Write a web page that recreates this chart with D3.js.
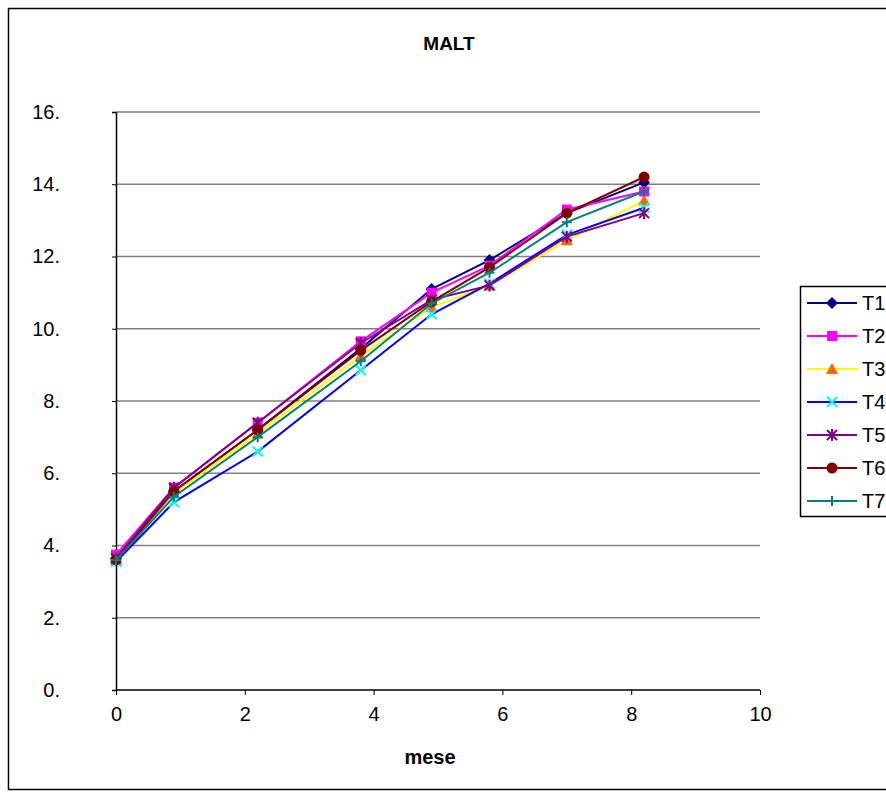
<!DOCTYPE html>
<html><head><meta charset="utf-8">
<script src="https://cdn.jsdelivr.net/npm/d3@7/dist/d3.min.js"></script>
<style>body{margin:0;background:#fff;} svg{display:block;font-family:"Liberation Sans",Arial,sans-serif;}</style>
</head><body>
<svg id="c" width="886" height="793"></svg>
<script>
const months = [0, 0.9, 2.2, 3.8, 4.9, 5.8, 7.0, 8.2];
const seriesNames = ["T1","T2","T3","T4","T5","T6","T7"];
const T1 = [3.65, 5.5, 7.2, 9.45, 11.1, 11.9, 13.2, 14.05];
const T2 = [3.75, 5.6, 7.4, 9.65, 11.0, 11.75, 13.3, 13.8];
const T3 = [3.6, 5.45, 7.1, 9.25, 10.6, 11.2, 12.45, 13.55];
const T4 = [3.55, 5.2, 6.6, 8.85, 10.4, 11.25, 12.6, 13.35];
const T5 = [3.65, 5.6, 7.4, 9.6, 10.8, 11.2, 12.55, 13.2];
const T6 = [3.6, 5.5, 7.2, 9.4, 10.75, 11.7, 13.2, 14.2];
const T7 = [3.6, 5.35, 7.0, 9.1, 10.7, 11.55, 12.95, 13.8];
const yTicks = [0,2,4,6,8,10,12,14,16];
const xTicks = [0,2,4,6,8,10];
const title = "MALT", xTitle = "mese";

const values = [T1,T2,T3,T4,T5,T6,T7];
const lineColors = ["#000080","#FF00FF","#FFFF00","#0000FF","#800080","#800000","#008080"];
const markColors = ["#000080","#FF00FF","#FF6600","#00FFFF","#800080","#800000","#008080"];
const markTypes = ["diamond","square","triangle","x","star","circle","plus"];

const svg = d3.select("#c");
svg.append("rect").attr("x",8.5).attr("y",8.5).attr("width",890).attr("height",781)
  .attr("fill","#fff").attr("stroke","#000").attr("stroke-width",1.5);

const x = d3.scaleLinear().domain([0,10]).range([116,760]);
const y = d3.scaleLinear().domain([0,16]).range([690,112]);

// gridlines
svg.append("g").selectAll("line").data(yTicks.filter(d=>d>0)).join("line")
  .attr("x1",x(0)).attr("x2",x(10)).attr("y1",d=>y(d)).attr("y2",d=>y(d))
  .attr("stroke","#808080").attr("stroke-width",1.5);

// axes
const yAxis = d3.axisLeft(y).tickValues(yTicks).tickSize(4).tickPadding(52).tickFormat(d=>d+".");
const gy = svg.append("g").attr("transform",`translate(${x(0)},0)`).call(yAxis);
gy.select(".domain").attr("stroke","#000").attr("stroke-width",1.5);
gy.selectAll("text").attr("font-size",20).attr("fill","#000");
gy.selectAll(".tick line").attr("stroke","#000");

const xAxis = d3.axisBottom(x).tickValues(xTicks).tickSize(5).tickPadding(12).tickFormat(d3.format("d"));
const gx = svg.append("g").attr("transform",`translate(0,${y(0)})`).call(xAxis);
gx.select(".domain").attr("stroke","#000").attr("stroke-width",1.5).attr("d",`M${x(0)},0H${x(10)}`);
gx.selectAll("text").attr("font-size",20).attr("fill","#000");
gx.selectAll(".tick line").attr("stroke","#000");

svg.append("text").attr("x",449).attr("y",50).attr("text-anchor","middle")
  .attr("font-size",19).attr("font-weight","bold").text(title);
svg.append("text").attr("x",430).attr("y",764).attr("text-anchor","middle")
  .attr("font-size",20).attr("font-weight","bold").text(xTitle);

function marker(g, type, color, cx, cy){
  const s = 5;
  if(type==="diamond"){
    g.append("path").attr("d",`M${cx},${cy-s-1}L${cx+s+1},${cy}L${cx},${cy+s+1}L${cx-s-1},${cy}Z`).attr("fill",color);
  } else if(type==="square"){
    g.append("rect").attr("x",cx-s).attr("y",cy-s).attr("width",2*s).attr("height",2*s).attr("fill",color);
  } else if(type==="triangle"){
    g.append("path").attr("d",`M${cx},${cy-s-1}L${cx+s+1},${cy+s}L${cx-s-1},${cy+s}Z`).attr("fill",color);
  } else if(type==="circle"){
    g.append("circle").attr("cx",cx).attr("cy",cy).attr("r",s+0.5).attr("fill",color);
  } else if(type==="x"){
    g.append("path").attr("d",`M${cx-s},${cy-s}L${cx+s},${cy+s}M${cx-s},${cy+s}L${cx+s},${cy-s}`).attr("stroke",color).attr("stroke-width",2);
  } else if(type==="plus"){
    g.append("path").attr("d",`M${cx-s},${cy}L${cx+s},${cy}M${cx},${cy-s}L${cx},${cy+s}`).attr("stroke",color).attr("stroke-width",2);
  } else if(type==="star"){
    g.append("path").attr("d",`M${cx-s},${cy-s}L${cx+s},${cy+s}M${cx-s},${cy+s}L${cx+s},${cy-s}M${cx},${cy-s-1}L${cx},${cy+s+1}`).attr("stroke",color).attr("stroke-width",2);
  }
}

const line = d3.line().x((d,i)=>x(months[i])).y(d=>y(d));
values.forEach((vals,k)=>{
  const g = svg.append("g");
  g.append("path").datum(vals).attr("d",line).attr("fill","none")
    .attr("stroke",lineColors[k]).attr("stroke-width",2);
  vals.forEach((v,i)=>marker(g, markTypes[k], markColors[k], x(months[i]), y(v)));
});

// legend
const lg = svg.append("g");
lg.append("rect").attr("x",800.5).attr("y",286.5).attr("width",100).attr("height",230)
  .attr("fill","#fff").attr("stroke","#000").attr("stroke-width",1.5);
seriesNames.forEach((n,k)=>{
  const ly = 303 + k*33;
  lg.append("line").attr("x1",807).attr("x2",857).attr("y1",ly).attr("y2",ly)
    .attr("stroke",lineColors[k]).attr("stroke-width",2);
  marker(lg, markTypes[k], markColors[k], 832, ly);
  lg.append("text").attr("x",862).attr("y",ly+7).attr("font-size",20).text(n);
});
</script>
</body></html>
